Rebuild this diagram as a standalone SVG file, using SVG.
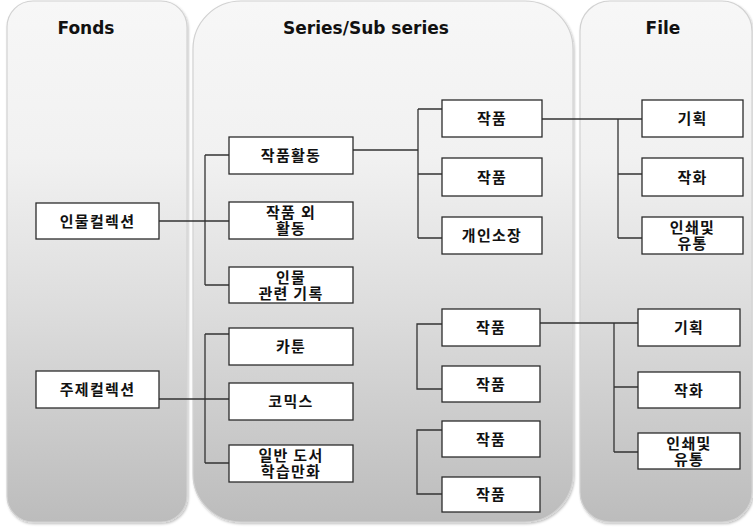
<svg xmlns="http://www.w3.org/2000/svg" width="753" height="529" viewBox="0 0 753 529">
<defs>
<linearGradient id="pg" x1="0" y1="0" x2="0" y2="1">
<stop offset="0" stop-color="#f7f7f7"/>
<stop offset="0.3" stop-color="#f1f1f1"/>
<stop offset="0.6" stop-color="#dcdcdc"/>
<stop offset="1" stop-color="#bcbcbc"/>
</linearGradient>
<filter id="sh" x="-5%" y="-5%" width="110%" height="110%">
<feDropShadow dx="1" dy="1.5" stdDeviation="1" flood-color="#000" flood-opacity="0.25"/>
</filter>
</defs>
<style>
.panel{fill:url(#pg);stroke:#d2d2d2;stroke-width:1.2;filter:url(#sh)}
.hdr{font-family:"DejaVu Sans","Open Sans",sans-serif;font-weight:bold;font-size:17px;fill:#111;text-anchor:middle}
.box{fill:#fff;stroke:#2b2b2b;stroke-width:1.3}
.t{font-family:"Noto Sans CJK KR","Noto Sans",sans-serif;font-weight:bold;font-size:15px;letter-spacing:1.3px;fill:#111;text-anchor:middle}
.c{fill:none;stroke:#333;stroke-width:1.3}
</style>
<rect width="753" height="529" fill="#fff"/>
<g id="panels">
<rect class="panel" x="7" y="1" width="180" height="521" rx="26" ry="26"/>
<rect class="panel" x="193" y="1" width="380" height="521" rx="48" ry="48"/>
<rect class="panel" x="580" y="1" width="172" height="521" rx="30" ry="30"/>
<text class="hdr" x="86" y="34">Fonds</text>
<text class="hdr" x="366" y="34">Series/Sub series</text>
<text class="hdr" x="663" y="34">File</text>
</g>
<g id="connectors">
<path class="c" d="M159 221H229M205 155V285M205 155H229M205 285H229"/>
<path class="c" d="M159 399H229M205 334V463M205 334H229M205 463H229"/>
<path class="c" d="M353 150H418M418 109V238M418 109H442M418 174H442M418 238H442"/>
<path class="c" d="M542 119H642M618 119V238M618 174H642M618 238H642"/>
<path class="c" d="M442 324H417V389H442M442 430H417V494H442"/>
<path class="c" d="M540 323H638M614 323V452M614 387H638M614 452H638"/>
</g>
<g id="n-inmul"><rect class="box" x="36" y="203" width="123" height="36"/><text class="t" x="97.5" y="226.5">인물컬렉션</text></g>
<g id="n-juje"><rect class="box" x="36" y="371" width="123" height="37"/><text class="t" x="97.5" y="395">주제컬렉션</text></g>
<g id="n-jakpumhwaldong"><rect class="box" x="229" y="137" width="124" height="37"/><text class="t" x="291" y="161">작품활동</text></g>
<g id="n-jakpumoe"><rect class="box" x="229" y="202" width="124" height="37"/><text class="t" y="218"><tspan x="291">작품 외</tspan><tspan x="291" dy="16">활동</tspan></text></g>
<g id="n-inmulgwanryeon"><rect class="box" x="229" y="267" width="124" height="36"/><text class="t" y="283"><tspan x="291">인물</tspan><tspan x="291" dy="16">관련 기록</tspan></text></g>
<g id="n-cartoon"><rect class="box" x="229" y="328" width="124" height="37"/><text class="t" x="291" y="352">카툰</text></g>
<g id="n-comics"><rect class="box" x="229" y="383" width="124" height="37"/><text class="t" x="291" y="407">코믹스</text></g>
<g id="n-ilban"><rect class="box" x="229" y="445" width="124" height="37"/><text class="t" y="461"><tspan x="291">일반 도서</tspan><tspan x="291" dy="16">학습만화</tspan></text></g>
<g id="n-jakpum1"><rect class="box" x="442" y="100" width="100" height="37"/><text class="t" x="492" y="124">작품</text></g>
<g id="n-jakpum2"><rect class="box" x="442" y="158" width="100" height="38"/><text class="t" x="492" y="182.5">작품</text></g>
<g id="n-gaein"><rect class="box" x="442" y="217" width="100" height="37"/><text class="t" x="492" y="241">개인소장</text></g>
<g id="n-jakpum3"><rect class="box" x="442" y="309" width="98" height="37"/><text class="t" x="491" y="333">작품</text></g>
<g id="n-jakpum4"><rect class="box" x="442" y="366" width="98" height="36"/><text class="t" x="491" y="389.5">작품</text></g>
<g id="n-jakpum5"><rect class="box" x="442" y="421" width="98" height="36"/><text class="t" x="491" y="444.5">작품</text></g>
<g id="n-jakpum6"><rect class="box" x="442" y="477" width="98" height="35"/><text class="t" x="491" y="500">작품</text></g>
<g id="n-gihoek1"><rect class="box" x="642" y="100" width="101" height="37"/><text class="t" x="692.5" y="124">기획</text></g>
<g id="n-jakhwa1"><rect class="box" x="642" y="158" width="101" height="38"/><text class="t" x="692.5" y="182.5">작화</text></g>
<g id="n-inswae1"><rect class="box" x="642" y="217" width="101" height="37"/><text class="t" y="233"><tspan x="692.5">인쇄및</tspan><tspan x="692.5" dy="16">유통</tspan></text></g>
<g id="n-gihoek2"><rect class="box" x="638" y="309" width="102" height="37"/><text class="t" x="689" y="333">기획</text></g>
<g id="n-jakhwa2"><rect class="box" x="638" y="372" width="102" height="36"/><text class="t" x="689" y="395.5">작화</text></g>
<g id="n-inswae2"><rect class="box" x="638" y="433" width="102" height="36"/><text class="t" y="448.5"><tspan x="689">인쇄및</tspan><tspan x="689" dy="16">유통</tspan></text></g>
</svg>
